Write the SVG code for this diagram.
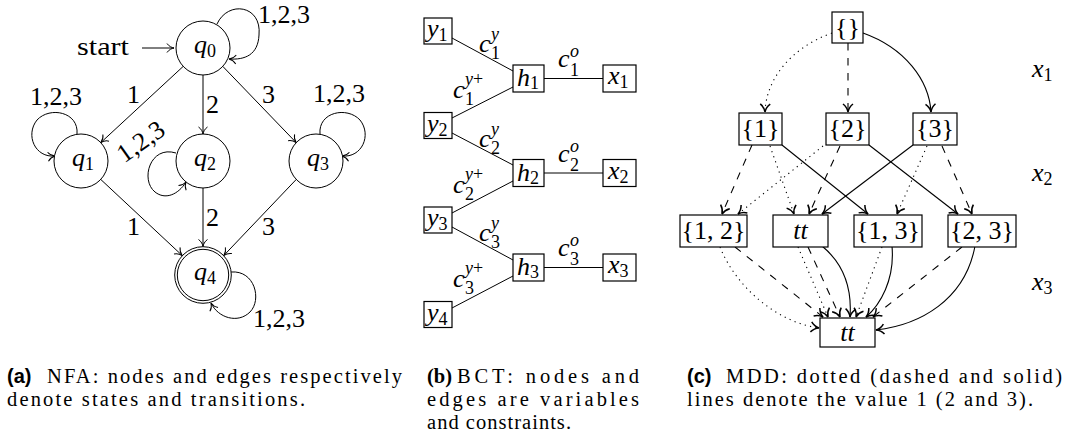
<svg xmlns="http://www.w3.org/2000/svg" width="1068" height="445" viewBox="0 0 1068 445" font-family="Liberation Serif, DejaVu Serif, Times New Roman, serif">
<defs>
<style>
text{font-size:26px;fill:#000}
.it{font-style:italic}
.s{font-size:18px}
.cap{font-size:20.5px}
.capa{font-family:"Liberation Sans",Arial,sans-serif;font-weight:bold;font-size:20px}
.capb{font-weight:bold;font-size:20.5px}
.e{fill:none;stroke:#000;stroke-width:1}
.m{fill:none;stroke:#000;stroke-width:1.1}
.dot{stroke-dasharray:1.2 4.2}
.dash{stroke-dasharray:7.5 7.5}
.st{fill:#fff;stroke:#000;stroke-width:1}
.bx{fill:#fff;stroke:#000;stroke-width:1.2}
</style>
<marker id="to" markerUnits="userSpaceOnUse" markerWidth="12" markerHeight="12" refX="0" refY="0" orient="auto" overflow="visible">
<path d="M-7 -4.5 C-5 -1.5 -2 -0.4 0 0 C-2 0.4 -5 1.5 -7 4.5" fill="none" stroke="#000" stroke-width="1" stroke-dasharray="none"/>
</marker>
<marker id="ar" markerUnits="userSpaceOnUse" markerWidth="12" markerHeight="12" refX="0" refY="0" orient="auto" overflow="visible">
<path d="M-8 -5 C-5.5 -1.8 -2.2 -0.4 0 0 C-2.2 0.4 -5.5 1.8 -8 5" fill="none" stroke="#000" stroke-width="1.5" stroke-dasharray="none"/>
</marker>
</defs>

<!-- ===== (a) NFA ===== -->
<g id="nfa-connectors">
<path class="e" marker-end="url(#to)" d="M142 48 L174 48"/>
<path class="e" marker-end="url(#to)" d="M183.2 66.4 L100.8 142.6"/>
<path class="e" marker-end="url(#to)" d="M203 75 L203 134"/>
<path class="e" marker-end="url(#to)" d="M222.8 66.4 L296.2 142.6"/>
<path class="e" marker-end="url(#to)" d="M100.7 179.4 L182.2 255.5"/>
<path class="e" marker-end="url(#to)" d="M203 188 L203 246.5"/>
<path class="e" marker-end="url(#to)" d="M296.3 179.4 L223.8 255.5"/>
<path class="e" marker-end="url(#to)" d="M217 24 C228 0 262 5 259 35 C258 55 245 60 229 59"/>
<path class="e" marker-end="url(#to)" d="M77 134 C79 112 50 106 37 120 C25 135 35 158 55 156"/>
<path class="e" marker-end="url(#to)" d="M320 134 C318 112 347 106 360 120 C372 135 362 158 342 156"/>
<path class="e" marker-end="url(#to)" d="M176 153 C150 145 140 180 155 192 C165 200 178 195 186 182"/>
<path class="e" marker-end="url(#to)" d="M231 272 C255 270 262 300 250 312 C238 324 218 318 211 303"/>
<text x="77" y="55" textLength="52" lengthAdjust="spacingAndGlyphs">start</text>
<text x="127" y="103">1</text>
<text x="206" y="113">2</text>
<text x="262" y="103">3</text>
<text x="127" y="235">1</text>
<text x="206" y="226">2</text>
<text x="262" y="235">3</text>
<text x="258" y="23">1,2,3</text>
<text x="30" y="105">1,2,3</text>
<text x="313" y="102">1,2,3</text>
<text x="253" y="327">1,2,3</text>
<text transform="translate(141,142) rotate(-35)" x="0" y="8" text-anchor="middle">1,2,3</text>
</g>
<g id="q0"><circle class="st" cx="203" cy="48" r="27"/><text x="205" y="53" text-anchor="middle"><tspan class="it">q</tspan><tspan class="s" dy="4">0</tspan></text></g>
<g id="q1"><circle class="st" cx="81" cy="161" r="27"/><text x="83" y="166" text-anchor="middle"><tspan class="it">q</tspan><tspan class="s" dy="4">1</tspan></text></g>
<g id="q2"><circle class="st" cx="203" cy="161" r="27"/><text x="205" y="166" text-anchor="middle"><tspan class="it">q</tspan><tspan class="s" dy="4">2</tspan></text></g>
<g id="q3"><circle class="st" cx="316" cy="161" r="27"/><text x="318" y="166" text-anchor="middle"><tspan class="it">q</tspan><tspan class="s" dy="4">3</tspan></text></g>
<g id="q4"><circle class="st" cx="203" cy="275" r="28.3"/><circle class="st" cx="203" cy="275" r="25.7"/><text x="205" y="280" text-anchor="middle"><tspan class="it">q</tspan><tspan class="s" dy="4">4</tspan></text></g>

<!-- ===== (b) BCT ===== -->
<g id="bct-connectors">
<path class="e" d="M452 38 L513 71"/>
<path class="e" d="M513 87 L452 118"/>
<path class="e" d="M452 133 L513 165"/>
<path class="e" d="M513 181 L452 213"/>
<path class="e" d="M452 227 L513 260"/>
<path class="e" d="M513 276 L452 308"/>
<path class="e" d="M544 78.5 L603 78.5"/>
<path class="e" d="M544 173 L603 173"/>
<path class="e" d="M544 267.5 L603 267.5"/>
<text class="it" x="479" y="52">c</text><text class="it s" x="491" y="40">y</text><text class="s" x="491" y="59">1</text>
<text class="it" x="479" y="146.5">c</text><text class="it s" x="491" y="134.5">y</text><text class="s" x="491" y="153.5">2</text>
<text class="it" x="479" y="241">c</text><text class="it s" x="491" y="229">y</text><text class="s" x="491" y="248">3</text>
<text class="it" x="453" y="98">c</text><text class="s" x="465" y="85"><tspan class="it">y</tspan>+</text><text class="s" x="465" y="105">1</text>
<text class="it" x="453" y="192.5">c</text><text class="s" x="465" y="179.5"><tspan class="it">y</tspan>+</text><text class="s" x="465" y="199.5">2</text>
<text class="it" x="453" y="287">c</text><text class="s" x="465" y="274"><tspan class="it">y</tspan>+</text><text class="s" x="465" y="294">3</text>
<text class="it" x="558" y="67">c</text><text class="it s" x="570" y="57">o</text><text class="s" x="570" y="76">1</text>
<text class="it" x="558" y="161.5">c</text><text class="it s" x="570" y="151.5">o</text><text class="s" x="570" y="170.5">2</text>
<text class="it" x="558" y="256">c</text><text class="it s" x="570" y="246">o</text><text class="s" x="570" y="265">3</text>
</g>
<g id="y1"><rect class="bx" x="424" y="18" width="28" height="26"/><text x="427" y="37"><tspan class="it">y</tspan><tspan class="s" dy="4">1</tspan></text></g>
<g id="y2"><rect class="bx" x="424" y="112.5" width="28" height="26"/><text x="427" y="131.5"><tspan class="it">y</tspan><tspan class="s" dy="4">2</tspan></text></g>
<g id="y3"><rect class="bx" x="424" y="207" width="28" height="26"/><text x="427" y="226"><tspan class="it">y</tspan><tspan class="s" dy="4">3</tspan></text></g>
<g id="y4"><rect class="bx" x="424" y="301.5" width="28" height="26"/><text x="427" y="320.5"><tspan class="it">y</tspan><tspan class="s" dy="4">4</tspan></text></g>
<g id="h1"><rect class="bx" x="513" y="65" width="31" height="27"/><text x="517" y="86"><tspan class="it">h</tspan><tspan class="s" dy="3">1</tspan></text></g>
<g id="h2"><rect class="bx" x="513" y="159.5" width="31" height="27"/><text x="517" y="180.5"><tspan class="it">h</tspan><tspan class="s" dy="3">2</tspan></text></g>
<g id="h3"><rect class="bx" x="513" y="254" width="31" height="27"/><text x="517" y="275"><tspan class="it">h</tspan><tspan class="s" dy="3">3</tspan></text></g>
<g id="x1"><rect class="bx" x="603" y="65" width="33" height="27"/><text x="608" y="84"><tspan class="it">x</tspan><tspan class="s" dy="4">1</tspan></text></g>
<g id="x2"><rect class="bx" x="603" y="159.5" width="33" height="27"/><text x="608" y="178.5"><tspan class="it">x</tspan><tspan class="s" dy="4">2</tspan></text></g>
<g id="x3"><rect class="bx" x="603" y="254" width="33" height="27"/><text x="608" y="273"><tspan class="it">x</tspan><tspan class="s" dy="4">3</tspan></text></g>

<!-- ===== (c) MDD ===== -->
<g id="mdd-connectors">
<path class="m dot" marker-end="url(#ar)" d="M832 33 C790 48 766 80 765 112"/>
<path class="m dash" marker-end="url(#ar)" d="M848 43 L848 112"/>
<path class="m" marker-end="url(#ar)" d="M863 33 C905 48 929 80 931 112"/>
<path class="m dash" marker-end="url(#ar)" d="M752 145 L722 214"/>
<path class="m dot" marker-end="url(#ar)" d="M770 146 L794 214"/>
<path class="m" marker-end="url(#ar)" d="M782 145 L868 214"/>
<path class="m dot" marker-end="url(#ar)" d="M823 146 L738 214"/>
<path class="m dash" marker-end="url(#ar)" d="M840 146 L809 214"/>
<path class="m" marker-end="url(#ar)" d="M869 145 L958 214"/>
<path class="m" marker-end="url(#ar)" d="M913 145 L822 214"/>
<path class="m dot" marker-end="url(#ar)" d="M927 146 L897 214"/>
<path class="m dash" marker-end="url(#ar)" d="M942 146 L972 214"/>
<path class="m dot" marker-end="url(#ar)" d="M720 247 C735 285 775 322 819 328"/>
<path class="m dash" marker-end="url(#ar)" d="M735 247 L823 317"/>
<path class="m dot" marker-end="url(#ar)" d="M798 247 L828 317"/>
<path class="m dash" marker-end="url(#ar)" d="M808 247 L840 317"/>
<path class="m" marker-end="url(#ar)" d="M822 246 C845 265 852 290 850 317"/>
<path class="m dot" marker-end="url(#ar)" d="M882 247 L856 317"/>
<path class="m" marker-end="url(#ar)" d="M892 246 C895 280 880 305 866 317"/>
<path class="m dash" marker-end="url(#ar)" d="M962 247 L873 317"/>
<path class="m" marker-end="url(#ar)" d="M975 246 C965 300 920 325 876 330"/>
</g>
<g id="n-empty"><rect class="bx" x="832" y="12" width="31" height="31"/><text x="847.5" y="36" text-anchor="middle">{}</text></g>
<g id="n-1"><rect class="bx" x="739" y="113" width="43" height="32"/><text x="760.5" y="137" text-anchor="middle">{1}</text></g>
<g id="n-2"><rect class="bx" x="826" y="113" width="43" height="32"/><text x="847.5" y="137" text-anchor="middle">{2}</text></g>
<g id="n-3"><rect class="bx" x="913" y="113" width="44" height="32"/><text x="935" y="137" text-anchor="middle">{3}</text></g>
<g id="n-12"><rect class="bx" x="680" y="215" width="67" height="32"/><text x="713.5" y="239" text-anchor="middle">{1, 2}</text></g>
<g id="n-tt"><rect class="bx" x="773" y="215" width="55" height="32"/><text class="it" x="800.5" y="239" text-anchor="middle">tt</text></g>
<g id="n-13"><rect class="bx" x="854" y="215" width="68" height="32"/><text x="888" y="239" text-anchor="middle">{1, 3}</text></g>
<g id="n-23"><rect class="bx" x="948" y="215" width="68" height="32"/><text x="982" y="239" text-anchor="middle">{2, 3}</text></g>
<g id="n-ttb"><rect class="bx" x="820" y="318" width="55" height="29"/><text class="it" x="847.5" y="341" text-anchor="middle">tt</text></g>
<g id="levels">
<text x="1032" y="77"><tspan class="it">x</tspan><tspan class="s" dy="4">1</tspan></text>
<text x="1032" y="181"><tspan class="it">x</tspan><tspan class="s" dy="4">2</tspan></text>
<text x="1032" y="290"><tspan class="it">x</tspan><tspan class="s" dy="4">3</tspan></text>
</g>

<!-- ===== captions ===== -->
<g id="captions">
<text class="capa" x="7" y="383">(a)</text>
<text class="cap" x="47" y="383" textLength="355" lengthAdjust="spacing">NFA: nodes and edges respectively</text>
<text class="cap" x="7" y="406" textLength="298" lengthAdjust="spacing">denote states and transitions.</text>
<text class="capb" x="427" y="383">(b)</text>
<text class="cap" x="457" y="383" textLength="182" lengthAdjust="spacing">BCT: nodes and</text>
<text class="cap" x="427" y="406" textLength="212" lengthAdjust="spacing">edges are variables</text>
<text class="cap" x="427" y="429" textLength="144" lengthAdjust="spacing">and constraints.</text>
<text class="capa" x="687" y="383">(c)</text>
<text class="cap" x="726" y="383" textLength="336" lengthAdjust="spacing">MDD: dotted (dashed and solid)</text>
<text class="cap" x="687" y="406" textLength="346" lengthAdjust="spacing">lines denote the value 1 (2 and 3).</text>
</g>
</svg>
